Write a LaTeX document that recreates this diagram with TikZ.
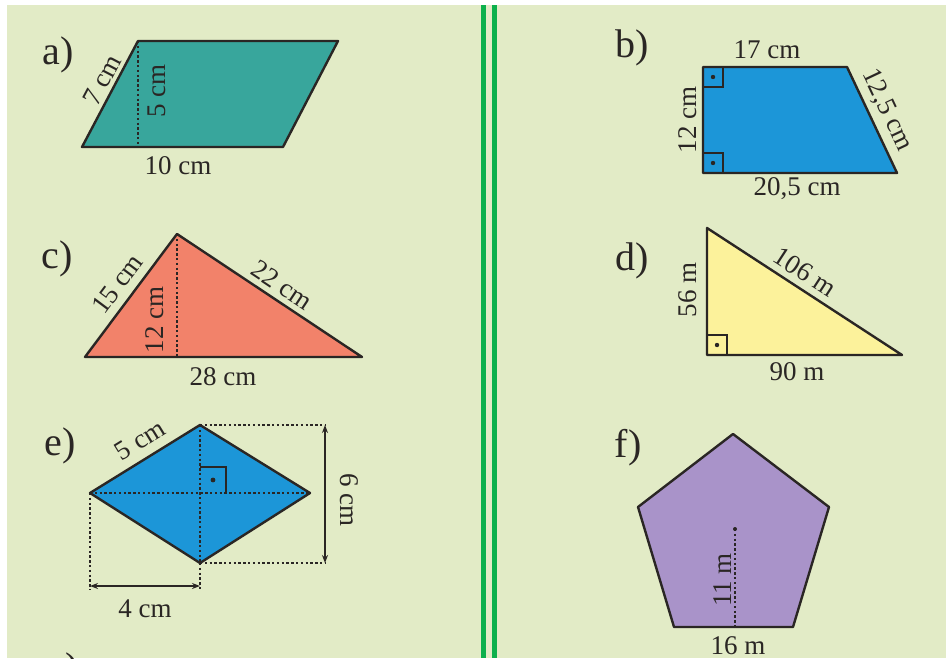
\documentclass[tikz,border=0pt]{standalone}
\usepackage{fontspec}
\setmainfont{Liberation Serif}
\usetikzlibrary{arrows.meta}
\definecolor{bg}{HTML}{E2EBC6}
\definecolor{grn}{HTML}{0CB04C}
\definecolor{txt}{HTML}{2A2624}
\definecolor{tealfill}{HTML}{38A69C}
\definecolor{blueb}{HTML}{1C96D8}
\definecolor{salmon}{HTML}{F2826A}
\definecolor{pyellow}{HTML}{FCF29B}
\definecolor{lav}{HTML}{A993C9}
\begin{document}
\begin{tikzpicture}[x=0.5pt,y=-0.5pt,
  figbox/.style={draw=txt,line width=1.2pt,line join=round},
  meas/.style={font=\fontsize{13.5}{15}\selectfont,text=txt,inner sep=0pt},
  letter/.style={font=\fontsize{20}{22}\selectfont,text=txt,inner sep=0pt},
  dots/.style={draw=txt,line width=0.7pt,dash pattern=on 1.2pt off 1.2pt},
  rbox/.style={draw=txt,line width=0.6pt},
  dotmark/.style={fill=txt}]
\useasboundingbox (0,0) rectangle (946,658);
\clip (0,0) rectangle (946,658);
\fill[white] (0,0) rectangle (946,658);
\fill[bg] (7,5) rectangle (946,658);
\fill[grn] (481,5) rectangle (486,658);
\fill[grn] (492,5) rectangle (497,658);

% a) parallelogram
\coordinate (a1) at (82,147); \coordinate (a2) at (283,147);
\coordinate (a3) at (338,41); \coordinate (a4) at (138,41);
\coordinate (ah) at (138,147);
\filldraw[figbox,fill=tealfill] (a1) -- (a2) -- (a3) -- (a4) -- cycle;
\draw[dots] (a4) -- (ah);
\node[letter] (la) at (58,55) {a)};
\node[meas,rotate=62.2] (a7) at (102,80) {7 cm};
\node[meas,rotate=90] (a5) at (157,91) {5 cm};
\node[meas] (a10) at (178,166) {10 cm};

% b) trapezoid
\coordinate (b1) at (703,173); \coordinate (b2) at (897,173);
\coordinate (b3) at (847,67); \coordinate (b4) at (703,67);
\filldraw[figbox,fill=blueb] (b1) -- (b2) -- (b3) -- (b4) -- cycle;
\draw[rbox] (703,87) -| (723,67);
\draw[rbox] (703,153) -| (723,173);
\fill[dotmark] (713,77) circle (2.2);
\fill[dotmark] (713,163) circle (2.2);
\node[letter] (lb) at (632,48) {b)};
\node[meas] (b17) at (767,50) {17 cm};
\node[meas,rotate=90] (b12) at (688,120) {12 cm};
\node[meas,rotate=-64.7] (b125) at (887,110) {12,5 cm};
\node[meas] (b205) at (797,189) {20,5 cm};

% c) triangle
\coordinate (c1) at (85,357); \coordinate (c2) at (362,357);
\coordinate (c3) at (177,234); \coordinate (ch) at (177,357);
\filldraw[figbox,fill=salmon] (c1) -- (c2) -- (c3) -- cycle;
\draw[dots] (c3) -- (ch);
\node[letter] (lc) at (57,259) {c)};
\node[meas,rotate=53.2] (c15) at (117,284) {15 cm};
\node[meas,rotate=90] (c12) at (155,320) {12 cm};
\node[meas,rotate=-33.6] (c22) at (282,285) {22 cm};
\node[meas] (c28) at (223,377) {28 cm};

% d) right triangle
\coordinate (d1) at (707,355); \coordinate (d2) at (902,355);
\coordinate (d3) at (707,228);
\filldraw[figbox,fill=pyellow] (d1) -- (d2) -- (d3) -- cycle;
\draw[rbox] (707,335) -| (727,355);
\fill[dotmark] (717,345) circle (2.2);
\node[letter] (ld) at (632,261) {d)};
\node[meas,rotate=90] (d56) at (688,290) {56 m};
\node[meas,rotate=-33.1] (d106) at (805,272) {106 m};
\node[meas] (d90) at (797,372) {90 m};

% e) rhombus
\coordinate (et) at (200,425); \coordinate (el) at (90,493);
\coordinate (er) at (310,493); \coordinate (eb) at (200,563);
\coordinate (ec) at (200,493);
\filldraw[figbox,fill=blueb] (et) -- (er) -- (eb) -- (el) -- cycle;
\draw[dots] (el) -- (er);
\draw[dots] (et) -- (eb);
\draw[rbox] (200,467) -| (226,493);
\fill[dotmark] (213,480) circle (2.4);
\coordinate (etr) at (325,425); \coordinate (ebr) at (325,563);
\coordinate (ell) at (90,590); \coordinate (ebl) at (200,590);
\coordinate (eal) at (90,586); \coordinate (ear) at (200,586);
\draw[dots] (et) -- (etr);
\draw[dots] (eb) -- (ebr);
\draw[dots] (el) -- (ell);
\draw[dots] (eb) -- (ebl);
\draw[txt,line width=0.7pt,{Stealth[length=4pt,width=3pt]}-{Stealth[length=4pt,width=3pt]}] (etr) -- (ebr);
\draw[txt,line width=0.7pt,{Stealth[length=4pt,width=3pt]}-{Stealth[length=4pt,width=3pt]}] (eal) -- (ear);
\node[letter] (le) at (60,446) {e)};
\node[meas,rotate=31.7] (e5) at (140,440) {5 cm};
\node[meas,rotate=-90] (e6) at (349,500) {6 cm};
\node[meas] (e4) at (145,609) {4 cm};

% f) pentagon
\coordinate (f1) at (733,434); \coordinate (f2) at (829,507);
\coordinate (f3) at (793,627); \coordinate (f4) at (674,627);
\coordinate (f5) at (638,507);
\coordinate (fc) at (735,529); \coordinate (fm) at (735,627);
\filldraw[figbox,fill=lav] (f1) -- (f2) -- (f3) -- (f4) -- (f5) -- cycle;
\draw[dots] (fc) -- (fm);
\fill[dotmark] (fc) circle (2);
\node[letter] (lf) at (628,448) {f)};
\node[meas,rotate=90] (f11) at (723,580) {11 m};
\node[meas] (f16) at (738,646) {16 m};

% g) (cut off)
\node[letter,anchor=north] (lg) at (62,652) {g)};
\end{tikzpicture}
\end{document}
